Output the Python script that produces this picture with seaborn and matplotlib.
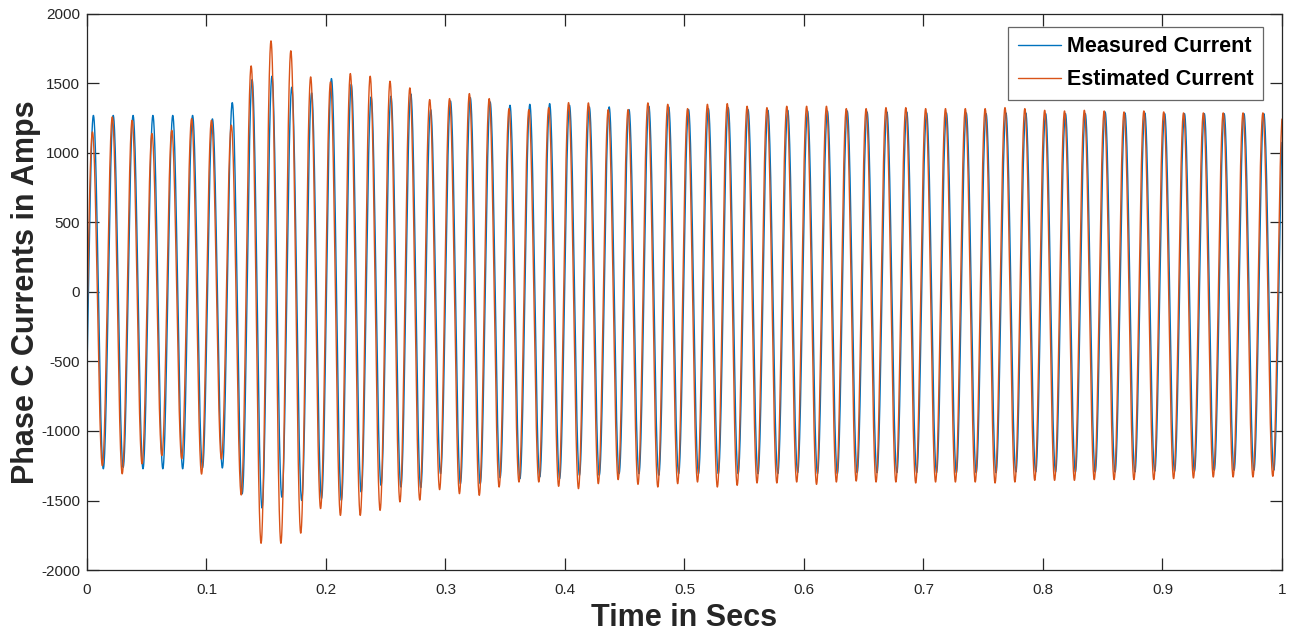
import numpy as np
import pandas as pd
import matplotlib
matplotlib.use("Agg")
import matplotlib.pyplot as plt
import seaborn as sns

# ---- data (per-cycle extremes, Amps) ----
measured_peaks = [1270, 1270, 1270, 1270, 1270, 1270, 1245, 1362, 1528, 1552,
                  1473, 1432, 1535, 1494, 1403, 1408, 1425, 1312, 1374, 1398,
                  1367, 1343, 1350, 1355, 1343, 1331, 1331, 1312, 1336, 1331,
                  1312, 1319, 1326, 1312, 1307, 1307, 1302, 1302, 1302, 1295,
                  1295, 1295, 1288, 1288, 1288, 1283, 1288, 1288, 1283, 1283,
                  1283, 1295, 1288, 1288, 1283, 1283, 1283, 1283, 1283, 1283]
measured_troughs = [-1272, -1262, -1272, -1272, -1272, -1265, -1266, -1452, -1554, -1476,
                    -1500, -1485, -1499, -1439, -1391, -1403, -1408, -1307, -1379, -1379,
                    -1336, -1343, -1331, -1343, -1319, -1319, -1307, -1307, -1319, -1307,
                    -1307, -1307, -1307, -1307, -1307, -1300, -1307, -1307, -1300, -1300,
                    -1300, -1300, -1300, -1300, -1300, -1300, -1295, -1295, -1295, -1295,
                    -1295, -1295, -1295, -1290, -1290, -1290, -1283, -1283, -1283, -1283]
estimated_peaks = [1151, 1259, 1235, 1140, 1163, 1247, 1235, 1200, 1626, 1806,
                   1735, 1547, 1511, 1571, 1552, 1516, 1468, 1384, 1391, 1427,
                   1391, 1319, 1312, 1326, 1362, 1360, 1312, 1312, 1360, 1350,
                   1319, 1350, 1355, 1336, 1326, 1336, 1336, 1336, 1319, 1319,
                   1326, 1326, 1319, 1319, 1319, 1319, 1326, 1319, 1307, 1302,
                   1307, 1302, 1295, 1302, 1295, 1288, 1288, 1288, 1288, 1288]
estimated_troughs = [-1250, -1308, -1236, -1177, -1200, -1310, -1202, -1460, -1808, -1808,
                     -1735, -1558, -1607, -1607, -1571, -1510, -1497, -1422, -1451, -1463,
                     -1403, -1367, -1367, -1398, -1415, -1379, -1350, -1384, -1403, -1379,
                     -1367, -1403, -1391, -1374, -1374, -1367, -1384, -1367, -1360, -1367,
                     -1367, -1374, -1367, -1367, -1367, -1374, -1367, -1355, -1355, -1355,
                     -1350, -1350, -1350, -1350, -1343, -1338, -1331, -1331, -1331, -1326]

series_names = ["Measured Current", "Estimated Current"]
first_peak_time = [0.0054, 0.0046]   # s, time of first positive peak of each series
period = 0.0166                      # s, one cycle
x_ticks = [0, 0.1, 0.2, 0.3, 0.4, 0.5, 0.6, 0.7, 0.8, 0.9, 1]
x_tick_labels = ["0", "0.1", "0.2", "0.3", "0.4", "0.5", "0.6", "0.7", "0.8", "0.9", "1"]
y_ticks = [-2000, -1500, -1000, -500, 0, 500, 1000, 1500, 2000]


def waveform(peaks, troughs, t_first):
    """Join the read extremes with half-cosine arcs (one arc per half-cycle)."""
    half = period / 2
    ext_t = [t_first - half]
    ext_v = [troughs[0]]
    for k in range(len(peaks)):
        ext_t += [t_first + k * period, t_first + k * period + half]
        ext_v += [peaks[k], troughs[k]]
    ext_t.append(ext_t[-1] + half)
    ext_v.append(peaks[-1])
    ts, vs = [], []
    for i in range(len(ext_t) - 1):
        u = np.linspace(0, 1, 60, endpoint=False)
        a, b = ext_v[i], ext_v[i + 1]
        ts.append(ext_t[i] + u * (ext_t[i + 1] - ext_t[i]))
        vs.append((a + b) / 2 + (a - b) / 2 * np.cos(np.pi * u))
    t = np.concatenate(ts)
    v = np.concatenate(vs)
    keep = (t >= 0) & (t <= 1)
    return t[keep], v[keep]


frames = []
for name, pk, tr, t0 in zip(series_names,
                            [measured_peaks, estimated_peaks],
                            [measured_troughs, estimated_troughs],
                            first_peak_time):
    t, v = waveform(pk, tr, t0)
    frames.append(pd.DataFrame({"Time": t, "Current": v, "Series": name}))
df = pd.concat(frames, ignore_index=True)

sns.set_theme(style="white")
plt.rcParams["font.family"] = ["Liberation Sans", "DejaVu Sans"]

fig = plt.figure(figsize=(12.9, 6.33), dpi=100)
ax = fig.add_axes([0.0674, 0.0995, 0.9264, 0.8785])

palette = {"Measured Current": "#0072BD", "Estimated Current": "#D95319"}
sns.lineplot(data=df, x="Time", y="Current", hue="Series", palette=palette,
             estimator=None, sort=False, linewidth=1.0, ax=ax)

ax.set_xlim(0, 1)
ax.set_ylim(-2000, 2000)
ax.set_xticks(x_ticks)
ax.set_xticklabels(x_tick_labels)
ax.set_yticks(y_ticks)
ax.set_yticklabels([str(v) for v in y_ticks])
ax.tick_params(direction="in", length=8.5, width=0.9, colors="#262626",
               labelsize=11, top=True, right=True, bottom=True, left=True)
ax.tick_params(axis="x", pad=9)
ax.tick_params(axis="y", pad=5)
for s in ax.spines.values():
    s.set_color("#262626")
    s.set_linewidth(0.9)

ax.set_xlabel("Time in Secs", fontsize=22, fontweight="bold", color="#262626",
              labelpad=5)
ax.set_ylabel("Phase C Currents in Amps", fontsize=22, fontweight="bold",
              color="#262626", labelpad=0)

leg = ax.legend(loc="upper right", fontsize=15.5, frameon=True, fancybox=False,
                edgecolor="#404040", handlelength=2.0, handletextpad=0.25,
                borderpad=0.45, labelspacing=0.55, borderaxespad=0,
                bbox_to_anchor=(0.984, 0.977))
for txt in leg.get_texts():
    txt.set_fontweight("bold")
    txt.set_color("black")
leg.get_frame().set_linewidth(0.9)
for h in leg.get_lines():
    h.set_linewidth(1.0)

fig.savefig("out.png", dpi=100)
